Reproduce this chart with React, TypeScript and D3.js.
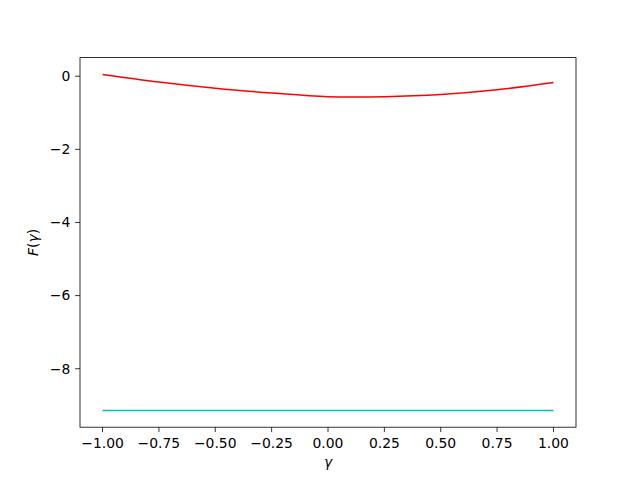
import React from "react";
import * as d3 from "d3";

const xs = [-1, -0.75, -0.5, -0.25, 0, 0.25, 0.5, 0.75, 1];
const redValues = [0.05, -0.16, -0.33, -0.46, -0.56, -0.56, -0.5, -0.37, -0.17];
const cyanValues = [-9.14, -9.14, -9.14, -9.14, -9.14, -9.14, -9.14, -9.14, -9.14];
const xTicks = [-1, -0.75, -0.5, -0.25, 0, 0.25, 0.5, 0.75, 1];
const yTicks = [0, -2, -4, -6, -8];

const W = 640, H = 480;
const L = 80, R = 576, T = 57.6, B = 427.2;
const FONT = "DejaVu Sans";
const FS = 13.9;

export default function App() {
  const allY = [...redValues, ...cyanValues];
  const ymin = d3.min(allY)!, ymax = d3.max(allY)!;
  const ym = (ymax - ymin) * 0.05;
  const x = d3.scaleLinear().domain([-1.1, 1.1]).range([L, R]);
  const y = d3.scaleLinear().domain([ymin - ym, ymax + ym]).range([B, T]);
  const line = d3
    .line<number>()
    .x((_, i) => x(xs[i]))
    .y((v) => y(v))
    .curve(d3.curveCatmullRom.alpha(0.5));
  const fmt = (v: number) => (v < 0 ? "\u2212" : "") + Math.abs(v).toFixed(2);
  const fmtY = (v: number) => (v < 0 ? "\u2212" : "") + Math.abs(v).toString();
  return (
    <svg width={W} height={H} style={{ display: "block", position: "absolute", left: 0, top: 0 }}>
      <rect width={W} height={H} fill="#fff" />
      <path d={line(redValues) || ""} fill="none" stroke="#ff0000" strokeWidth={1.5} />
      <path d={line(cyanValues) || ""} fill="none" stroke="#00bfbf" strokeWidth={1.5} />
      <rect x={L} y={T} width={R - L} height={B - T} fill="none" stroke="#000" strokeWidth={0.8} />
      {xTicks.map((t) => (
        <g key={"x" + t}>
          <line x1={x(t)} x2={x(t)} y1={B} y2={B + 4.86} stroke="#000" strokeWidth={0.8} />
          <text x={x(t)} y={B + 20.5} textAnchor="middle" fontFamily={FONT} fontSize={FS} fill="#000">
            {fmt(t)}
          </text>
        </g>
      ))}
      {yTicks.map((t) => (
        <g key={"y" + t}>
          <line x1={L - 4.86} x2={L} y1={y(t)} y2={y(t)} stroke="#000" strokeWidth={0.8} />
          <text x={L - 9.7} y={y(t)} dy="0.35em" textAnchor="end" fontFamily={FONT} fontSize={FS} fill="#000">
            {fmtY(t)}
          </text>
        </g>
      ))}
      <text x={(L + R) / 2} y={467} textAnchor="middle" fontFamily={FONT} fontSize={FS} fontStyle="italic" fill="#000">
        γ
      </text>
      <text
        transform={`translate(38,${(T + B) / 2}) rotate(-90)`}
        textAnchor="middle"
        fontFamily={FONT}
        fontSize={FS}
        fill="#000"
      >
        <tspan fontStyle="italic">F</tspan>
        <tspan>(</tspan>
        <tspan fontStyle="italic">γ</tspan>
        <tspan>)</tspan>
      </text>
    </svg>
  );
}
